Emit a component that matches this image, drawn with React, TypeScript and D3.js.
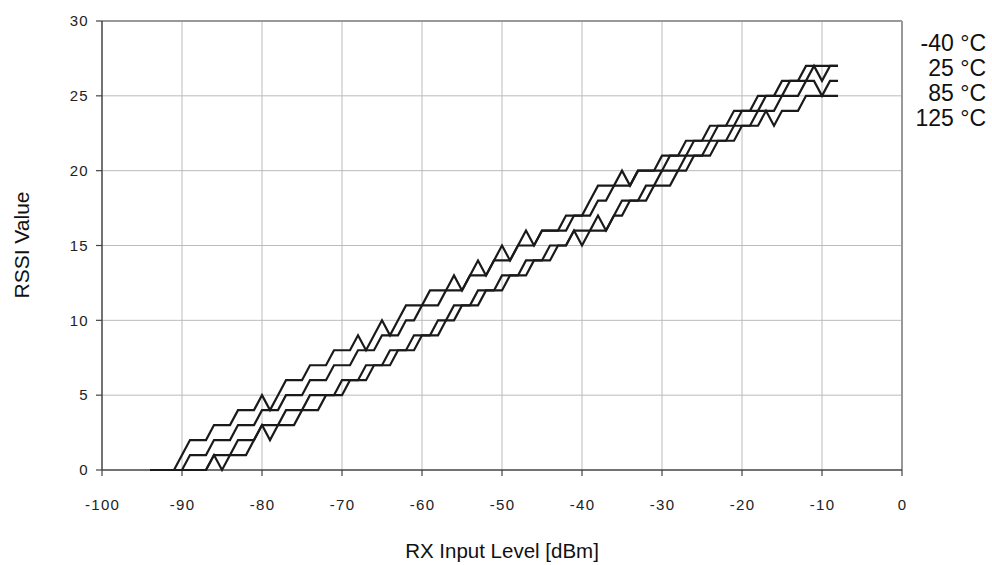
import React from "react";
import * as d3 from "d3";

const dbm = [-94,-93,-92,-91,-90,-89,-88,-87,-86,-85,-84,-83,-82,-81,-80,-79,-78,-77,-76,-75,-74,-73,-72,-71,-70,-69,-68,-67,-66,-65,-64,-63,-62,-61,-60,-59,-58,-57,-56,-55,-54,-53,-52,-51,-50,-49,-48,-47,-46,-45,-44,-43,-42,-41,-40,-39,-38,-37,-36,-35,-34,-33,-32,-31,-30,-29,-28,-27,-26,-25,-24,-23,-22,-21,-20,-19,-18,-17,-16,-15,-14,-13,-12,-11,-10,-9,-8];

const tMinus40 = [0,0,0,0,1,2,2,2,3,3,3,4,4,4,5,4,5,6,6,6,7,7,7,8,8,8,9,8,9,10,9,10,11,11,11,12,12,12,13,12,13,14,13,14,15,14,15,16,15,16,16,16,17,17,17,18,19,19,19,20,19,20,20,20,21,21,21,22,22,22,23,23,23,24,24,24,25,25,25,26,26,26,27,27,27,27,27];
const t25 = [0,0,0,0,0,1,1,1,2,2,2,3,3,3,4,4,4,5,5,5,6,6,6,7,7,7,8,8,8,9,9,9,10,10,11,11,11,12,12,12,13,13,13,14,14,14,15,15,15,16,16,16,16,17,17,17,18,18,19,19,19,20,20,20,20,21,21,21,22,22,22,23,23,23,24,24,24,25,25,25,26,26,26,27,26,27,27];
const t85 = [0,0,0,0,0,0,0,0,1,1,1,2,2,2,3,3,3,4,4,4,5,5,5,5,6,6,6,7,7,7,8,8,8,9,9,9,10,10,11,11,11,12,12,12,13,13,13,14,14,14,15,15,15,16,16,16,17,16,17,18,18,18,19,19,20,20,20,21,21,21,22,22,22,23,23,23,24,24,24,25,25,25,26,26,25,26,26];
const t125 = [0,0,0,0,0,0,0,0,1,0,1,1,1,2,3,2,3,3,3,4,4,4,5,5,5,6,6,6,7,7,7,8,8,8,9,9,9,10,10,11,11,11,12,12,12,13,13,13,14,14,14,15,15,16,15,16,16,16,17,17,18,18,18,19,19,19,20,20,21,21,21,22,22,22,23,23,23,24,23,24,24,24,25,25,25,25,25];

const seriesNames = ["-40 °C", "25 °C", "85 °C", "125 °C"];
const seriesValues = [tMinus40, t25, t85, t125];

const xTicks = [-100,-90,-80,-70,-60,-50,-40,-30,-20,-10,0];
const yTicks = [0,5,10,15,20,25,30];

export default function App() {
  const W = 992, H = 565;
  const x = d3.scaleLinear().domain([-100, 0]).range([102, 902]);
  const y = d3.scaleLinear().domain([0, 30]).range([470, 21]);
  const line = d3.line<number>().x((_, i) => x(dbm[i])).y((d) => y(d));
  const font = "'Liberation Sans', Arial, Helvetica, sans-serif";
  const grid = "#bbbbbb";
  return (
    <svg width={W} height={H} style={{ position: "absolute", left: 0, top: 0, background: "#fff" }} fontFamily={font}>
      {xTicks.filter(t => t > -100).map(t => (
        <line key={"gx" + t} x1={x(t)} x2={x(t)} y1={y(30)} y2={y(0)} stroke={grid} strokeWidth={1} />
      ))}
      {yTicks.filter(t => t > 0).map(t => (
        <line key={"gy" + t} x1={x(-100)} x2={x(0)} y1={y(t)} y2={y(t)} stroke={grid} strokeWidth={1} />
      ))}
      <line x1={x(0)} x2={x(0)} y1={y(30)} y2={y(0)} stroke="#999" strokeWidth={2} />
      <line x1={x(-100)} x2={x(0)} y1={y(30)} y2={y(30)} stroke="#999" strokeWidth={2} />
      <line x1={x(-100)} x2={x(-100)} y1={y(30)} y2={y(0)} stroke="#444" strokeWidth={1.5} />
      <line x1={x(-100)} x2={x(0)} y1={y(0)} y2={y(0)} stroke="#444" strokeWidth={1.5} />
      {yTicks.map(t => (
        <g key={"yt" + t}>
          <line x1={x(-100) - 6} x2={x(-100)} y1={y(t)} y2={y(t)} stroke="#444" strokeWidth={1.2} />
          <text x={89} y={y(t)} dy="0.35em" textAnchor="end" fontSize={15} fill="#222" letterSpacing={1.3}>{t}</text>
        </g>
      ))}
      {xTicks.map(t => (
        <g key={"xt" + t}>
          <line x1={x(t)} x2={x(t)} y1={y(0)} y2={y(0) + 6} stroke="#444" strokeWidth={1.2} />
          <text x={x(t) + 0.6} y={505} dy="0.35em" textAnchor="middle" fontSize={15} fill="#222" letterSpacing={1.3}>{t}</text>
        </g>
      ))}
      {seriesValues.map((vals, k) => (
        <path key={"s" + k} d={line(vals) || ""} fill="none" stroke="#1a1a1a" strokeWidth={2.2} strokeLinejoin="miter" />
      ))}
      {seriesNames.map((n, k) => (
        <text key={"lg" + k} x={986} y={43 + k * 25} dy="0.35em" textAnchor="end" fontSize={23} fill="#111">{n}</text>
      ))}
      <text x={502} y={551} dy="0.35em" textAnchor="middle" fontSize={20.5} fill="#111">RX Input Level [dBm]</text>
      <text transform={`translate(22,245) rotate(-90)`} dy="0.35em" textAnchor="middle" fontSize={21} fill="#111">RSSI Value</text>
    </svg>
  );
}
